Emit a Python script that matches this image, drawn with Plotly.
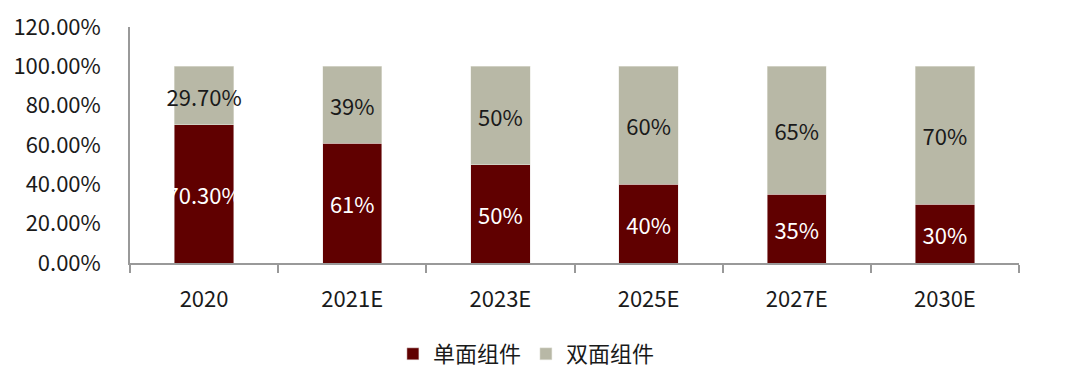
import plotly.graph_objects as go

categories = ["2020", "2021E", "2023E", "2025E", "2027E", "2030E"]
single = [0.703, 0.61, 0.50, 0.40, 0.35, 0.30]
double = [0.297, 0.39, 0.50, 0.60, 0.65, 0.70]
single_labels = ["70.30%", "61%", "50%", "40%", "35%", "30%"]
double_labels = ["29.70%", "39%", "50%", "60%", "65%", "70%"]

FONT = "Noto Sans CJK SC"
FS = 22

fig = go.Figure()
fig.add_trace(go.Bar(
    x=categories, y=single, name="单面组件",
    marker=dict(color="#600000", line=dict(color="#e8e0e0", width=0.5)),
    text=single_labels, textposition="inside", insidetextanchor="middle", textangle=0,
    textfont=dict(color="white", size=FS, family=FONT),
    constraintext="none", cliponaxis=False,
))
fig.add_trace(go.Bar(
    x=categories, y=double, name="双面组件",
    marker=dict(color="#B8B8A6", line=dict(color="#e8e8e0", width=0.5)),
    text=double_labels, textposition="inside", insidetextanchor="middle", textangle=0,
    textfont=dict(color="#1a1a1a", size=FS, family=FONT),
    constraintext="none", cliponaxis=False,
))

fig.update_layout(
    barmode="stack",
    bargap=0.6,
    width=1080, height=379,
    margin=dict(l=122, r=69, t=19, b=124, autoexpand=False),
    paper_bgcolor="white", plot_bgcolor="white",
    font=dict(family=FONT, size=FS, color="#1a1a1a"),
    showlegend=True,
    legend=dict(orientation="h", x=0.48, xanchor="center", xref="container",
                y=1 - 346 / 379, yanchor="middle", yref="container",
                font=dict(size=FS, family=FONT), traceorder="normal"),
    xaxis=dict(showline=True, linecolor="#999999", linewidth=1.5, automargin=False,
               ticks="outside", tickson="boundaries", ticklen=8, tickcolor="#999999",
               tickwidth=1.5, tickfont=dict(size=FS, family=FONT), ticklabelstandoff=16),
    yaxis=dict(range=[0, 1.2], dtick=0.2, tickformat=".2%", showgrid=False, automargin=False,
               showline=True, linecolor="#999999", linewidth=1.5, zeroline=False,
               ticks="", ticklabelstandoff=23, tickfont=dict(size=FS, family=FONT)),
)

fig.write_html("out.html")
